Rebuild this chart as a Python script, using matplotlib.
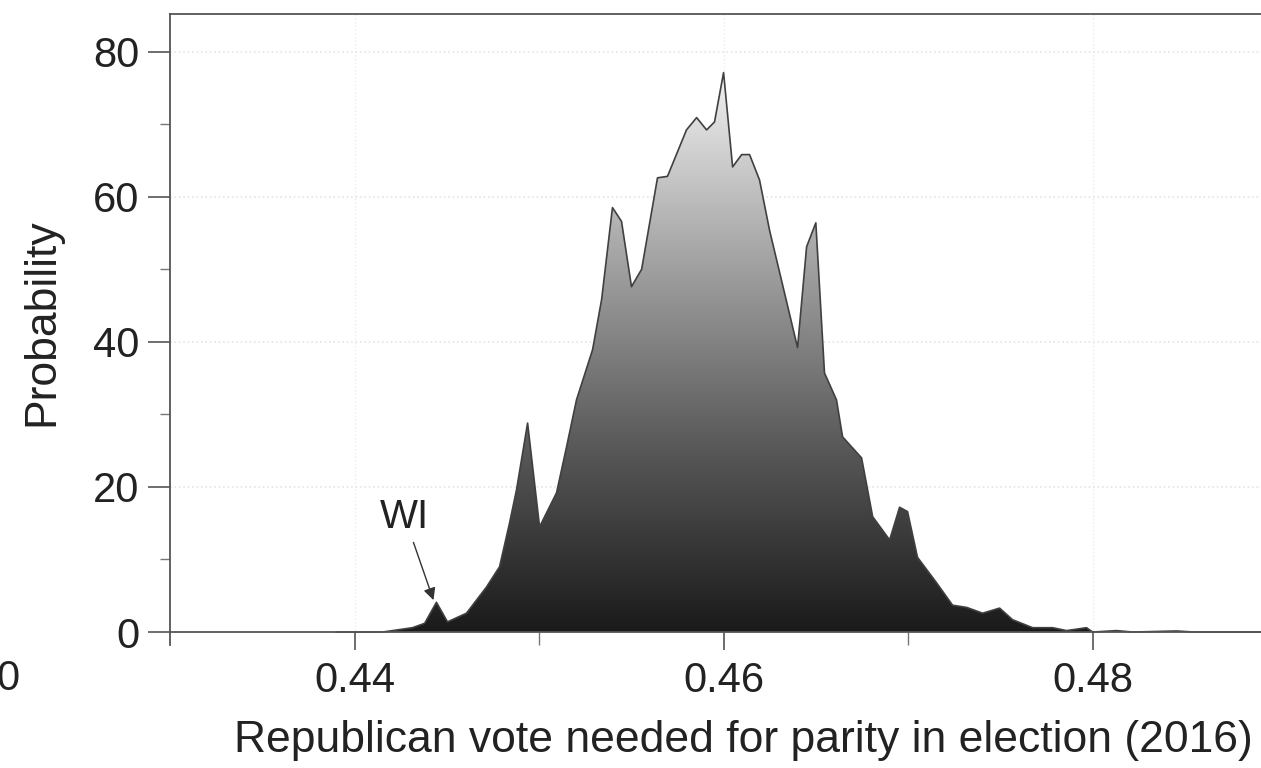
import numpy as np
import matplotlib
matplotlib.use("Agg")
import matplotlib.pyplot as plt
from matplotlib.colors import LinearSegmentedColormap

# ---- data ----
vote_share = [0.4390, 0.44152, 0.44314, 0.44380, 0.44444, 0.44504, 0.44607, 0.44715, 0.44786,
              0.4484, 0.44878, 0.44938, 0.45003, 0.45095, 0.45149, 0.45203, 0.4529,
              0.45339, 0.45398, 0.45447, 0.45501, 0.45556, 0.45642, 0.45696, 0.45799,
              0.45854, 0.45908, 0.45951, 0.46, 0.46049, 0.46098, 0.46141, 0.46195,
              0.46249, 0.46401, 0.4645, 0.4650, 0.46547, 0.46612, 0.46645, 0.46748,
              0.46808, 0.469, 0.46954, 0.46997, 0.47051, 0.47154, 0.47241, 0.47317,
              0.47404, 0.47496, 0.47566, 0.47675, 0.47783, 0.47859, 0.47967, 0.48,
              0.4813, 0.48217, 0.48455, 0.4855, 0.4900]
probability = [0.0, 0.0, 0.6, 1.2, 4.1, 1.4, 2.6, 6.2, 9.0,
               15.0, 19.6, 28.8, 14.5, 19.2, 25.5, 32.0, 38.9,
               45.8, 58.5, 56.6, 47.6, 50.0, 62.6, 62.8, 69.2,
               70.9, 69.2, 70.3, 77.1, 64.1, 65.8, 65.8, 62.3,
               55.4, 39.2, 53.1, 56.4, 35.7, 32.0, 26.9, 24.0,
               15.9, 12.7, 17.2, 16.6, 10.3, 6.8, 3.7, 3.4,
               2.6, 3.3, 1.7, 0.6, 0.6, 0.2, 0.6, 0.0,
               0.2, 0.0, 0.15, 0.0, 0.0]
x_ticks = [0.44, 0.46, 0.48]
x_minor = [0.45, 0.47]
y_ticks = [0, 20, 40, 60, 80]
y_minor = [10, 30, 50, 70]

plt.rcParams['font.family'] = ['Liberation Sans', 'DejaVu Sans']

fig = plt.figure(figsize=(12.61, 7.68), dpi=100)
ax = fig.add_axes([0.1348, 0.160, 0.878, 0.822])
ax.set_xlim(0.43, 0.49)
ax.set_ylim(-1.8, 85.2)

x = np.array(vote_share)
y = np.array(probability)

# gradient fill clipped by the area
cmap = LinearSegmentedColormap.from_list("g", ["#1a1a1a", "#5a5a5a", "#a5a5a5", "#f4f4f4"])
poly = ax.fill_between(x, 0, y, facecolor="none", edgecolor="none")
grad = np.linspace(0, 1, 256).reshape(-1, 1)
im = ax.imshow(grad, extent=[x.min(), x.max(), 0, 78], origin="lower",
               aspect="auto", cmap=cmap, zorder=2)
path = poly.get_paths()[0]
im.set_clip_path(path, transform=ax.transData)
ax.plot(x, y, color="#404040", lw=1.2, zorder=3)

# grid
for gx in x_ticks:
    ax.axvline(gx, color="#ececec", lw=1.0, ls=":", zorder=0)
for gy in y_ticks[1:]:
    ax.axhline(gy, color="#e4e4e4", lw=1.2, ls=":", zorder=0)

# spines
for s in ["top", "left", "bottom", "right"]:
    ax.spines[s].set_color("#555555")
    ax.spines[s].set_linewidth(1.3)
ax.spines["bottom"].set_position(("data", 0))
ax.spines["bottom"].set_zorder(4)

ax.set_xticks(x_ticks)
ax.set_xticks(x_minor, minor=True)
ax.set_xticklabels(["0.44", "0.46", "0.48"])
ax.set_yticks(y_ticks)
ax.set_yticks(y_minor, minor=True)
ax.tick_params(axis="x", which="major", direction="out", length=13, width=1.2,
               color="#555555", labelsize=30, pad=8, labelcolor="#222222")
ax.tick_params(axis="x", which="minor", direction="out", length=9, width=1.0, color="#777777")
ax.tick_params(axis="y", which="major", direction="out", length=16, width=1.2,
               color="#555555", labelsize=30, pad=6, labelcolor="#222222")
ax.tick_params(axis="y", which="minor", direction="out", length=7, width=1.0, color="#777777")

ax.set_xlabel("Republican vote needed for parity in election (2016)", fontsize=32,
              color="#222222")
ax.xaxis.set_label_coords(0.5176, -0.119)
ax.set_ylabel("Probability", fontsize=32, color="#222222")
ax.yaxis.set_label_coords(-0.097, 0.512)

ax.annotate("WI", xy=(0.44428, 4.4), xytext=(0.44271, 15.9), fontsize=29,
            color="#222222", ha="center", va="center",
            arrowprops=dict(arrowstyle="-|>", color="#333333", lw=1.0,
                            mutation_scale=18, shrinkA=3, shrinkB=0), zorder=5)

fig.text(0.006, 0.116, "0", fontsize=30, color="#222222", ha="center", va="center")

fig.savefig("out.png", dpi=100)
